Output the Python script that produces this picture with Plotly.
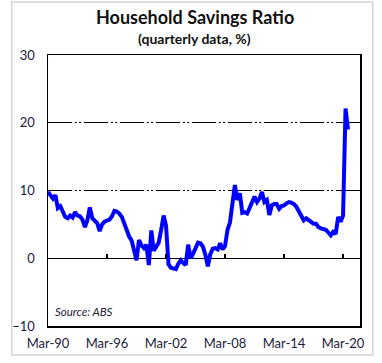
import plotly.graph_objects as go
import pandas as pd

# Household savings ratio, quarterly, %, Mar-1990 .. Sep-2020
savings_ratio = [
    9.8, 9.2, 8.8, 9.3, 7.4, 7.7, 6.8, 6.1, 5.9, 6.3,
    6.0, 6.8, 6.3, 6.2, 5.7, 4.6, 5.6, 7.5, 5.9, 5.5,
    5.2, 4.0, 5.0, 5.4, 5.5, 5.7, 6.2, 7.0, 6.9, 6.6,
    6.1, 5.2, 4.0, 3.2, 2.6, 1.2, -0.3, 2.7, 1.9, 1.5,
    2.0, -1.0, 4.1, 1.1, 1.7, 2.3, 4.2, 6.3, 4.8, -0.9,
    -1.4, -1.5, -1.6, -0.8, -0.3, -0.7, -1.0, 2.0, 0.0, 0.7,
    1.6, 2.3, 2.2, 1.7, 0.5, -1.2, 0.6, 1.4, 1.5, 1.3,
    2.2, 1.3, 1.8, 4.2, 5.3, 8.1, 10.8, 8.6, 9.6, 6.7,
    6.8, 6.6, 7.4, 8.3, 9.1, 8.3, 8.8, 9.8, 8.3, 8.6,
    6.4, 7.8, 8.0, 8.0, 7.3, 7.7, 7.8, 8.1, 8.3, 8.2,
    8.0, 7.6, 7.0, 6.2, 5.6, 5.9, 5.6, 5.3, 5.1, 5.1,
    4.6, 4.4, 4.3, 4.2, 3.8, 3.4, 3.9, 3.6, 6.1, 5.4,
    6.3, 22.1, 19.0,
]
quarters = pd.date_range("1990-03-01", periods=len(savings_ratio), freq="3MS")

tick_dates = ["1990-03-01", "1996-03-01", "2002-03-01", "2008-03-01", "2014-03-01", "2020-03-01"]
tick_labels = ["Mar-90", "Mar-96", "Mar-02", "Mar-08", "Mar-14", "Mar-20"]
y_ticks = [-10, 0, 10, 20, 30]

FONT = "Lato"
TXT = "#1c1c3a"
Y_MIN, Y_MAX = -10, 30
zero_frac = (0 - Y_MIN) / (Y_MAX - Y_MIN)

fig = go.Figure()
fig.add_trace(go.Scatter(
    x=quarters, y=savings_ratio, mode="lines",
    line=dict(color="#0000ff", width=4),
    hoverinfo="skip", showlegend=False,
))
# empty helper trace: renders the tick axis sitting on the zero line
fig.add_trace(go.Scatter(
    x=quarters, y=[None] * len(quarters), xaxis="x2", yaxis="y2",
    mode="lines", hoverinfo="skip", showlegend=False,
))

fig.update_layout(
    width=382, height=363,
    margin=dict(l=41, r=22, t=55, b=37),
    paper_bgcolor="white", plot_bgcolor="rgba(0,0,0,0)",
    showlegend=False,
    font=dict(family=FONT, color=TXT, size=13),
    xaxis=dict(
        type="date",
        range=["1990-03-01", "2021-11-20"],
        tickvals=tick_dates, ticktext=tick_labels,
        ticks="", showgrid=False, zeroline=False,
        showline=True, mirror=True, linecolor="black", linewidth=1.5,
        tickfont=dict(family=FONT, size=13, color=TXT),
        ticklabelstandoff=5,
    ),
    xaxis2=dict(
        type="date", anchor="y2", matches="x", side="bottom",
        tickvals=tick_dates, ticks="inside", ticklen=4, tickwidth=1.2, tickcolor="black",
        showticklabels=False, showline=False, showgrid=False, zeroline=False,
    ),
    yaxis=dict(
        range=[Y_MIN, Y_MAX], tickvals=y_ticks,
        showgrid=True, gridcolor="black", gridwidth=1,
        griddash="24px,3px,2px,2px,2px,3px",
        zeroline=True, zerolinecolor="black", zerolinewidth=1.5,
        showline=True, mirror=True, linecolor="black", linewidth=1.5,
        ticks="", tickfont=dict(family=FONT, size=13, color=TXT),
        ticklabelstandoff=9,
    ),
    yaxis2=dict(
        domain=[zero_frac, 1], anchor="x2", range=[0, 1],
        visible=False, showgrid=False, zeroline=False,
    ),
    annotations=[
        dict(text="<b>Household Savings Ratio</b>", xref="paper", yref="paper",
             x=0.47, y=1.0 + (55 - 17) / 271, xanchor="center", yanchor="middle",
             showarrow=False, font=dict(family=FONT, size=18, color="#111111")),
        dict(text="<b>(quarterly data, %)</b>", xref="paper", yref="paper",
             x=0.47, y=1.0 + (55 - 39) / 271, xanchor="center", yanchor="middle",
             showarrow=False, font=dict(family=FONT, size=14, color="#111111")),
        dict(text="<i>Source: ABS</i>", xref="paper", yref="paper",
             x=(46 - 41) / 319, y=(326 - 311) / 271, xanchor="left", yanchor="middle",
             showarrow=False, font=dict(family=FONT, size=11.5, color=TXT)),
    ],
    shapes=[
        dict(type="rect", xref="paper", yref="paper",
             x0=(4 - 41) / 319, x1=(373 - 41) / 319,
             y0=(326 - 355) / 271, y1=(326 - 2) / 271,
             line=dict(color="#d4d4d4", width=1.5), fillcolor="rgba(0,0,0,0)", layer="above"),
    ],
)

fig.write_html(
    "out.html",
    config={"displayModeBar": False, "staticPlot": True},
    post_script="document.body.style.margin='0px';document.body.style.overflow='hidden';",
)
